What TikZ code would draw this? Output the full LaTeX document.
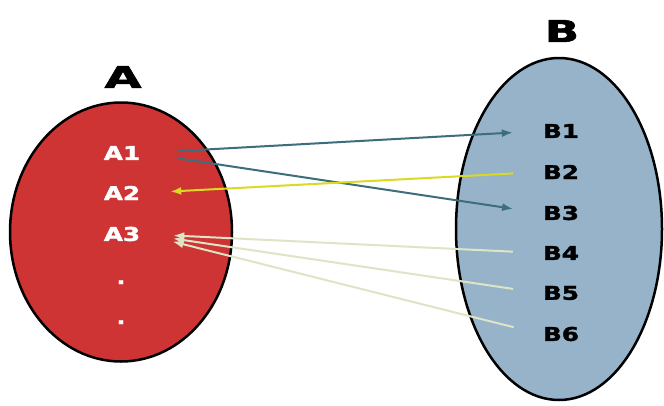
\documentclass[tikz,border=0pt]{standalone}
\usepackage{graphicx,xcolor}
\usepackage{fontspec}
\setmainfont{DejaVu Sans}[BoldFeatures={FakeBold=1.6}]
\usepackage{tikz}
\usetikzlibrary{arrows.meta,shapes.geometric}
\definecolor{setred}{HTML}{CF3434}
\definecolor{setblue}{HTML}{97B3C9}
\definecolor{teal}{HTML}{3D6E7C}
\definecolor{lime}{HTML}{DADA22}
\definecolor{pale}{HTML}{DDE5C6}
\newcommand{\wide}[2][1.3]{\scalebox{#1}[1]{#2}}
\tikzset{
  setA/.style={ellipse,draw=black,line width=2.5pt,fill=setred,minimum width=222pt,minimum height=259pt,inner sep=0pt},
  setB/.style={ellipse,draw=black,line width=2.5pt,fill=setblue,minimum width=206pt,minimum height=342pt,inner sep=0pt},
  title/.style={font=\fontsize{30}{34}\selectfont\bfseries,inner sep=1pt},
  item/.style={font=\fontsize{19}{22}\selectfont\bfseries,inner sep=2pt},
  aitem/.style={item,text=white},
  bitem/.style={item,text=black},
  tealflow/.style={-{Latex[length=11pt,width=8pt]},draw=teal,line width=2pt},
  limeflow/.style={-{Latex[length=11pt,width=8pt]},draw=lime,line width=2pt},
  paleflow/.style={-{Latex[length=11pt,width=8pt]},draw=pale,line width=2pt}}

\begin{document}
\begin{tikzpicture}[x=1pt,y=-1pt]
  \useasboundingbox[fill=white] (0,0) rectangle (664,405);
  \node[setA] (A) at (121,232) {};
  \node[setB] (B) at (559,229) {};
  \node[title] (tA) at (123,77) {\wide[1.6]{A}};
  \node[title] (tB) at (562,31) {\wide[1.5]{B}};
  \node[aitem] (a1) at (122,153) {\wide{A1}};
  \node[aitem] (a2) at (122,193) {\wide{A2}};
  \node[aitem] (a3) at (122,234) {\wide{A3}};
  \node[aitem,anchor=base] (d1) at (121,284) {\wide[1.2]{.}};
  \node[aitem,anchor=base] (d2) at (121,324) {\wide[1.2]{.}};
  \foreach \i/\y in {1/131,2/172,3/213,4/253,5/293,6/334}
    \node[bitem] (b\i) at (561,\y) {\wide{B\i}};
  \draw[tealflow,shorten <=35pt,shorten >=28pt] (a1.east) -- (b1.west);
  \draw[tealflow,shorten <=35pt,shorten >=28pt] (a1.east) -- (b3.west);
  \draw[limeflow,shorten <=28pt,shorten >=28pt] (b2.west) -- (a2.east);
  \foreach \i in {4,5,6}
    \draw[paleflow,shorten <=28pt,shorten >=31pt] (b\i.west) -- (a3.east);
\end{tikzpicture}
\end{document}
